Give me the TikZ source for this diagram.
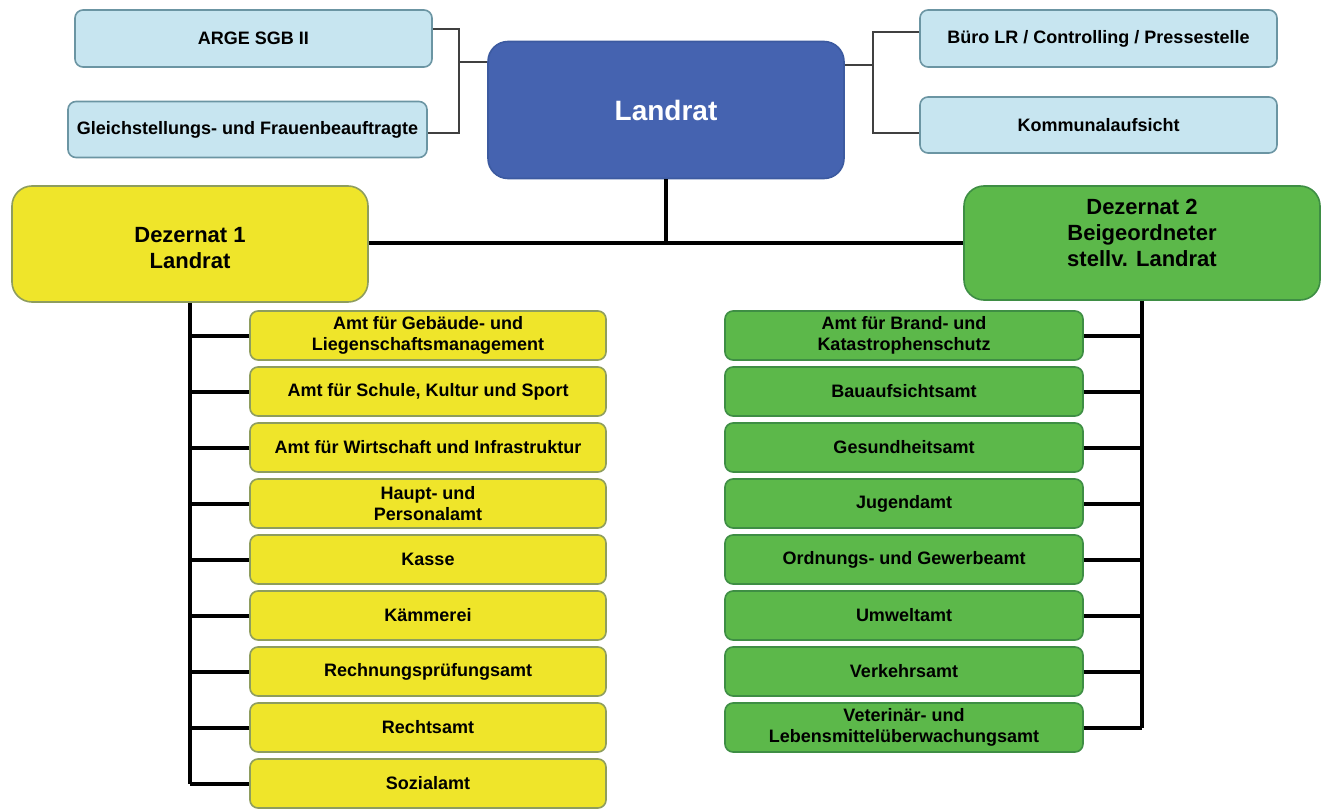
\documentclass[tikz,border=0pt]{standalone}
\usepackage{fontspec}
\setmainfont{Liberation Sans}
\definecolor{lblue}{HTML}{C7E5F0}
\definecolor{lblueb}{HTML}{6B95A3}
\definecolor{dblue}{HTML}{4563B0}
\definecolor{dblueb}{HTML}{3C5AA0}
\definecolor{yel}{HTML}{EFE52A}
\definecolor{yelb}{HTML}{8E9D5E}
\definecolor{grn}{HTML}{5CB84A}
\definecolor{grnb}{HTML}{3E8E44}
\definecolor{thin}{HTML}{404040}
\tikzset{
  box/.style={draw, line width=1.6pt, rounded corners=8pt, align=center, inner sep=0pt,
    font=\fontsize{18}{21}\selectfont\bfseries, text=black},
  bluebox/.style={box, fill=lblue, draw=lblueb, minimum width=357pt, minimum height=57pt},
  ybox/.style={box, fill=yel, draw=yelb, minimum width=356pt, minimum height=49pt},
  gbox/.style={box, fill=grn, draw=grnb, minimum width=358pt, minimum height=49pt},
  dezbox/.style={box, rounded corners=20pt, minimum width=356pt, minimum height=116pt},
  deztext/.style={align=center, inner sep=0pt, text=black,
    font=\fontsize{22}{26}\selectfont\bfseries},
  thinline/.style={draw=thin, line width=1.6pt},
  thickline/.style={draw=black, line width=4pt},
}
\begin{document}
\begin{tikzpicture}[x=1pt,y=-1pt]
\useasboundingbox[fill=white] (0,0) rectangle (1327,810);

% top level
\node[box, fill=dblue, draw=dblueb, rounded corners=20pt, minimum width=356pt, minimum height=137pt,
  text=white, font=\fontsize{28}{32}\selectfont\bfseries] (landrat) at (666,110) {Landrat};
\node[bluebox] (arge) at (253.5,38.5) {ARGE SGB II};
\node[bluebox, minimum width=359pt, minimum height=56pt] (gleich) at (247.5,129.5) {Gleichstellungs- und Frauenbeauftragte};
\node[bluebox] (buero) at (1098.5,38.5) {Büro LR / Controlling / Pressestelle};
\node[bluebox, minimum height=56pt] (kommunal) at (1098.5,125) {Kommunalaufsicht};

% staff connectors
\coordinate (tl1) at (459,29);
\coordinate (tl2) at (459,133);
\coordinate (tlm) at (459,62);
\draw[thinline] (arge.east |- tl1) -- (tl1) -- (tl2) -- (gleich.east |- tl2);
\draw[thinline] (tlm) -- (landrat.west |- tlm);
\coordinate (tr1) at (873,32);
\coordinate (tr2) at (873,133);
\coordinate (trm) at (873,65);
\draw[thinline] (buero.west |- tr1) -- (tr1) -- (tr2) -- (kommunal.west |- tr2);
\draw[thinline] (trm) -- (landrat.east |- trm);

% Dezernate
\node[dezbox, fill=yel, draw=yelb] (dez1) at (190,244) {};
\node[deztext] (dez1t) at (190,248) {Dezernat 1\\Landrat};
\node[dezbox, fill=grn, draw=grnb, minimum height=114pt] (dez2) at (1142,243) {};
\node[deztext] (dez2t) at (1142,233) {Dezernat 2\\Beigeordneter\\stellv. Landrat};

\coordinate (mid) at (666,243.5);
\draw[thickline] (landrat.south) -- (landrat.south |- mid);
\draw[thickline] (dez1.east |- mid) -- (dez2.west |- mid);

% Dezernat 1 offices
\foreach \i/\t in {0/{Amt für Gebäude- und\\Liegenschaftsmanagement},
                   1/{Amt für Schule, Kultur und Sport},
                   2/{Amt für Wirtschaft und Infrastruktur},
                   3/{Haupt- und\\Personalamt},
                   4/{Kasse},
                   5/{Kämmerei},
                   6/{Rechnungsprüfungsamt},
                   7/{Rechtsamt},
                   8/{Sozialamt}}{
  \node[ybox] (y\i) at (428,335.5+56*\i) {\t};
}
\draw[thickline] (dez1.south) -- (dez1.south |- y8.west);
\foreach \i in {0,...,8}{
  \draw[thickline] (y\i.west) -- (y\i.west -| dez1.south);
}

% Dezernat 2 offices
\foreach \i/\t in {0/{Amt für Brand- und\\Katastrophenschutz},
                   1/{Bauaufsichtsamt},
                   2/{Gesundheitsamt},
                   3/{Jugendamt},
                   4/{Ordnungs- und Gewerbeamt},
                   5/{Umweltamt},
                   6/{Verkehrsamt},
                   7/{Veterinär- und\\Lebensmittelüberwachungsamt}}{
  \node[gbox] (g\i) at (904,335.5+56*\i) {\t};
}
\draw[thickline] (dez2.south) -- (dez2.south |- g7.east);
\foreach \i in {0,...,7}{
  \draw[thickline] (g\i.east) -- (g\i.east -| dez2.south);
}
\end{tikzpicture}
\end{document}
